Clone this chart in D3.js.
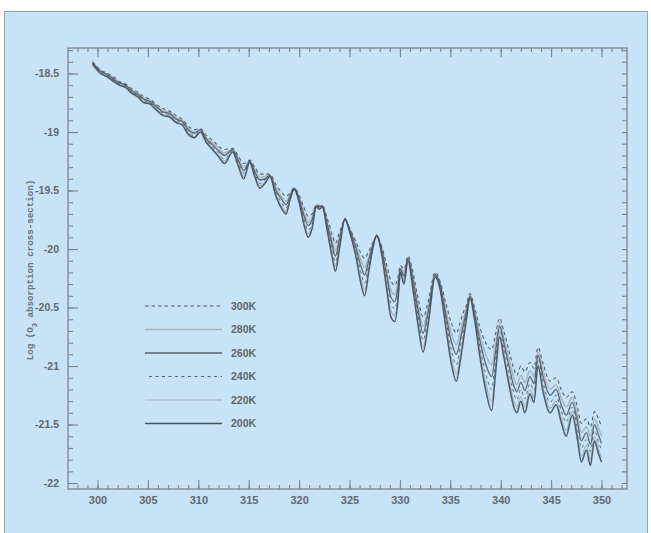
<!DOCTYPE html>
<html>
<head>
<meta charset="utf-8">
<script src="https://cdn.jsdelivr.net/npm/d3@7/dist/d3.min.js"></script>
<style>
  html, body { margin: 0; padding: 0; background: #ffffff; }
  svg { display: block; }
</style>
</head>
<body>
<script>
// ---------------- DATA ----------------
const wavelengths = [299.5,300.3,301.0,301.6,302.2,302.8,303.4,304.0,304.6,305.2,305.8,306.5,307.1,307.8,308.4,309.0,309.6,310.2,310.8,311.4,312.0,312.6,313.4,314.0,314.5,315.1,315.6,316.1,316.6,317.1,317.7,318.3,318.7,319.1,319.5,320.0,320.5,320.9,321.3,321.7,322.0,322.3,322.8,323.3,323.6,324.0,324.55,325.0,325.6,326.1,326.5,326.9,327.3,327.7,328.2,328.7,329.1,329.5,329.8,330.05,330.4,330.8,331.3,331.8,332.3,332.8,333.5,334.0,334.6,335.1,335.6,336.0,336.3,336.6,336.95,337.4,337.9,338.5,339.1,339.5,339.9,340.3,340.8,341.3,341.6,342.0,342.4,342.9,343.3,343.7,344.2,344.9,345.5,346.0,346.5,347.1,347.6,348.0,348.5,348.9,349.3,349.7,350.0];

const k300 = [-18.40,-18.47,-18.50,-18.53,-18.57,-18.59,-18.63,-18.66,-18.70,-18.72,-18.76,-18.80,-18.82,-18.86,-18.89,-18.95,-18.98,-18.97,-19.03,-19.07,-19.12,-19.15,-19.14,-19.21,-19.27,-19.24,-19.30,-19.36,-19.36,-19.36,-19.45,-19.52,-19.55,-19.52,-19.48,-19.54,-19.65,-19.72,-19.70,-19.62,-19.63,-19.63,-19.74,-19.88,-19.95,-19.86,-19.75,-19.82,-19.93,-20.03,-20.08,-20.02,-19.95,-19.89,-19.98,-20.14,-20.27,-20.31,-20.24,-20.14,-20.17,-20.06,-20.20,-20.42,-20.58,-20.45,-20.20,-20.28,-20.48,-20.63,-20.72,-20.62,-20.54,-20.48,-20.38,-20.50,-20.66,-20.80,-20.86,-20.72,-20.59,-20.70,-20.86,-21.02,-21.08,-21.00,-21.05,-20.97,-21.02,-20.84,-20.98,-21.13,-21.10,-21.20,-21.27,-21.22,-21.35,-21.49,-21.45,-21.52,-21.39,-21.45,-21.52];

const k280 = [-18.40,-18.48,-18.51,-18.54,-18.58,-18.60,-18.64,-18.67,-18.71,-18.73,-18.77,-18.82,-18.83,-18.88,-18.90,-18.97,-19.00,-18.98,-19.05,-19.09,-19.14,-19.18,-19.15,-19.23,-19.30,-19.25,-19.32,-19.39,-19.38,-19.37,-19.48,-19.56,-19.59,-19.54,-19.48,-19.56,-19.69,-19.77,-19.73,-19.63,-19.64,-19.63,-19.77,-19.93,-20.01,-19.90,-19.75,-19.83,-19.96,-20.09,-20.16,-20.07,-19.96,-19.89,-20.00,-20.19,-20.35,-20.39,-20.29,-20.16,-20.20,-20.07,-20.24,-20.48,-20.66,-20.50,-20.21,-20.30,-20.54,-20.72,-20.82,-20.70,-20.60,-20.51,-20.39,-20.53,-20.72,-20.90,-20.99,-20.80,-20.63,-20.76,-20.93,-21.10,-21.16,-21.08,-21.14,-21.04,-21.09,-20.88,-21.04,-21.20,-21.16,-21.27,-21.35,-21.27,-21.42,-21.57,-21.52,-21.60,-21.45,-21.53,-21.60];

const k260 = [-18.41,-18.48,-18.51,-18.55,-18.58,-18.60,-18.65,-18.68,-18.72,-18.74,-18.78,-18.83,-18.84,-18.89,-18.91,-18.98,-19.01,-18.98,-19.06,-19.11,-19.16,-19.20,-19.15,-19.25,-19.33,-19.25,-19.34,-19.41,-19.40,-19.37,-19.50,-19.58,-19.62,-19.55,-19.48,-19.57,-19.72,-19.80,-19.75,-19.63,-19.64,-19.63,-19.79,-19.97,-20.06,-19.92,-19.75,-19.83,-19.98,-20.14,-20.22,-20.10,-19.97,-19.89,-20.01,-20.23,-20.41,-20.45,-20.33,-20.17,-20.23,-20.08,-20.27,-20.52,-20.72,-20.54,-20.22,-20.31,-20.58,-20.79,-20.90,-20.77,-20.65,-20.53,-20.40,-20.55,-20.77,-20.98,-21.09,-20.87,-20.66,-20.80,-20.99,-21.17,-21.22,-21.14,-21.21,-21.09,-21.15,-20.91,-21.09,-21.25,-21.20,-21.33,-21.42,-21.31,-21.47,-21.64,-21.57,-21.67,-21.50,-21.59,-21.66];

const k240 = [-18.41,-18.49,-18.52,-18.56,-18.59,-18.61,-18.66,-18.69,-18.73,-18.75,-18.79,-18.84,-18.85,-18.90,-18.92,-19.00,-19.03,-18.99,-19.07,-19.12,-19.18,-19.23,-19.16,-19.27,-19.35,-19.25,-19.35,-19.44,-19.41,-19.37,-19.52,-19.61,-19.65,-19.56,-19.49,-19.58,-19.75,-19.84,-19.78,-19.63,-19.65,-19.64,-19.81,-20.01,-20.11,-19.95,-19.74,-19.84,-20.01,-20.19,-20.29,-20.14,-19.98,-19.88,-20.03,-20.28,-20.47,-20.51,-20.38,-20.18,-20.25,-20.09,-20.30,-20.57,-20.78,-20.58,-20.23,-20.33,-20.62,-20.86,-20.99,-20.83,-20.70,-20.56,-20.41,-20.57,-20.82,-21.06,-21.20,-20.93,-20.69,-20.84,-21.05,-21.23,-21.29,-21.20,-21.28,-21.15,-21.21,-20.94,-21.14,-21.31,-21.25,-21.38,-21.48,-21.35,-21.53,-21.70,-21.63,-21.73,-21.55,-21.65,-21.72];

const k220 = [-18.42,-18.50,-18.53,-18.56,-18.60,-18.62,-18.66,-18.69,-18.74,-18.75,-18.80,-18.85,-18.86,-18.91,-18.93,-19.01,-19.04,-19.00,-19.08,-19.14,-19.20,-19.25,-19.17,-19.29,-19.38,-19.26,-19.37,-19.46,-19.43,-19.38,-19.54,-19.64,-19.68,-19.57,-19.49,-19.59,-19.78,-19.87,-19.80,-19.64,-19.66,-19.64,-19.83,-20.05,-20.15,-19.98,-19.74,-19.85,-20.03,-20.24,-20.35,-20.17,-19.99,-19.88,-20.04,-20.32,-20.53,-20.57,-20.42,-20.19,-20.28,-20.09,-20.33,-20.62,-20.84,-20.62,-20.23,-20.34,-20.67,-20.93,-21.07,-20.90,-20.74,-20.58,-20.41,-20.59,-20.86,-21.14,-21.30,-21.00,-20.73,-20.89,-21.11,-21.30,-21.35,-21.26,-21.35,-21.20,-21.27,-20.98,-21.18,-21.36,-21.30,-21.44,-21.55,-21.39,-21.58,-21.77,-21.68,-21.80,-21.60,-21.71,-21.78];

const k200 = [-18.42,-18.50,-18.53,-18.57,-18.60,-18.62,-18.67,-18.70,-18.75,-18.76,-18.81,-18.86,-18.87,-18.92,-18.94,-19.02,-19.05,-19.00,-19.09,-19.15,-19.21,-19.27,-19.17,-19.30,-19.40,-19.26,-19.38,-19.48,-19.44,-19.38,-19.55,-19.66,-19.70,-19.58,-19.49,-19.60,-19.80,-19.90,-19.82,-19.64,-19.66,-19.64,-19.85,-20.08,-20.19,-20.00,-19.74,-19.85,-20.05,-20.28,-20.40,-20.20,-20.00,-19.88,-20.05,-20.35,-20.58,-20.62,-20.45,-20.20,-20.30,-20.10,-20.35,-20.65,-20.88,-20.65,-20.24,-20.35,-20.70,-20.98,-21.13,-20.95,-20.78,-20.60,-20.42,-20.60,-20.90,-21.20,-21.38,-21.05,-20.75,-20.92,-21.15,-21.35,-21.40,-21.30,-21.40,-21.24,-21.31,-21.00,-21.22,-21.40,-21.33,-21.48,-21.60,-21.42,-21.62,-21.82,-21.72,-21.85,-21.64,-21.75,-21.82];

const seriesLabels = ["300K","280K","260K","240K","220K","200K"];
const seriesValues = [k300, k280, k260, k240, k220, k200];
const xTickValues = [300,305,310,315,320,325,330,335,340,345,350];
const yTickValues = [-18.5,-19,-19.5,-20,-20.5,-21,-21.5,-22];
const yTickLabels = ["-18.5","-19","-19.5","-20","-20.5","-21","-21.5","-22"];
const yTitle = "Log (O";
const yTitleSub = "3";
const yTitleRest = " absorption cross-section)";

(function () {
  const styles = [
    {stroke:"#4e5862", width:1.1, dash:"3.5,3"},   // 300K
    {stroke:"#a6b4c0", width:1.6, dash:null},      // 280K
    {stroke:"#56616b", width:1.3, dash:null},      // 260K
    {stroke:"#59646e", width:1.0, dash:"3,3.5"},   // 240K
    {stroke:"#9eacb8", width:1.1, dash:null},      // 220K
    {stroke:"#4a545e", width:1.5, dash:null}       // 200K
  ];

  const W = 651, H = 533;
  const mLeft = 68, mRight = 627, mTop = 48, mBottom = 489;

  const svg = d3.select("body").append("svg").attr("width", W).attr("height", H);

  const defs = svg.append("defs");
  defs.append("filter").attr("id", "soft").attr("x", "-5%").attr("y", "-5%")
    .attr("width", "110%").attr("height", "110%")
    .append("feGaussianBlur").attr("stdDeviation", 0.35);

  svg.append("rect").attr("x", 4.5).attr("y", 11.5).attr("width", 643).attr("height", 540)
    .attr("fill", "#c6e3f7").attr("stroke", "#9aa3aa").attr("stroke-width", 1);

  const x = d3.scaleLinear().domain([297.07, 352.53]).range([mLeft, mRight]);
  const y = d3.scaleLinear().domain([-22.051, -18.282]).range([mBottom, mTop]);

  const axisColor = "#7d858c";
  const tickFont = "'Liberation Sans', Arial, sans-serif";

  function styleAxis(g) {
    g.select(".domain").remove();
    g.selectAll(".tick line").attr("stroke", axisColor).attr("stroke-width", 1.1);
    g.selectAll(".tick text").attr("fill", "#62696f").attr("font-family", tickFont)
      .attr("font-weight", "bold");
  }

  const xMinor = d3.range(298, 353, 1);
  const yMinor = d3.range(-22.0, -18.25, 0.1).map(v => +v.toFixed(2));

  svg.append("g").attr("transform", `translate(0,${mBottom})`)
    .call(d3.axisBottom(x).tickValues(xMinor).tickSize(-4).tickFormat(""))
    .call(styleAxis);
  svg.append("g").attr("transform", `translate(0,${mBottom})`)
    .call(d3.axisBottom(x).tickValues(xTickValues).tickSize(-9).tickPadding(7).tickFormat(d3.format("d")))
    .call(styleAxis)
    .call(g => g.selectAll(".tick text").attr("font-size", 11));

  svg.append("g").attr("transform", `translate(0,${mTop})`)
    .call(d3.axisTop(x).tickValues(xMinor).tickSize(-4).tickFormat(""))
    .call(styleAxis);
  svg.append("g").attr("transform", `translate(0,${mTop})`)
    .call(d3.axisTop(x).tickValues(xTickValues).tickSize(-9).tickFormat(""))
    .call(styleAxis);

  svg.append("g").attr("transform", `translate(${mLeft},0)`)
    .call(d3.axisLeft(y).tickValues(yMinor).tickSize(-5).tickFormat(""))
    .call(styleAxis);
  svg.append("g").attr("transform", `translate(${mLeft},0)`)
    .call(d3.axisLeft(y).tickValues(yTickValues).tickSize(-10).tickPadding(9)
      .tickFormat((d, i) => yTickLabels[i]))
    .call(styleAxis)
    .call(g => g.selectAll(".tick text").attr("font-size", 10.5));

  svg.append("g").attr("transform", `translate(${mRight},0)`)
    .call(d3.axisRight(y).tickValues(yMinor).tickSize(-5).tickFormat(""))
    .call(styleAxis);

  svg.append("rect").attr("x", mLeft).attr("y", mTop).attr("width", mRight - mLeft).attr("height", mBottom - mTop)
    .attr("fill", "none").attr("stroke", axisColor).attr("stroke-width", 1.3);

  const tt = svg.append("text")
    .attr("transform", `translate(33,270) rotate(-90)`)
    .attr("text-anchor", "middle")
    .attr("font-family", "'Liberation Mono', 'DejaVu Sans Mono', monospace")
    .attr("font-size", 9.2)
    .attr("font-weight", "bold")
    .attr("fill", "#6a7177");
  tt.append("tspan").text(yTitle);
  tt.append("tspan").attr("baseline-shift", "sub").attr("font-size", 7).text(yTitleSub);
  tt.append("tspan").text(yTitleRest);

  const line = d3.line().curve(d3.curveMonotoneX).x(d => x(d[0])).y(d => y(d[1]));
  const plot = svg.append("g").attr("filter", "url(#soft)");
  const order = [1, 4, 0, 3, 2, 5];
  order.forEach(i => {
    const pts = wavelengths.map((w, j) => [w, seriesValues[i][j]]);
    const s = styles[i];
    const p = plot.append("path").datum(pts).attr("d", line)
      .attr("fill", "none").attr("stroke", s.stroke).attr("stroke-width", s.width)
      .attr("stroke-linejoin", "round").attr("opacity", 0.95);
    if (s.dash) p.attr("stroke-dasharray", s.dash);
  });

  const legend = svg.append("g").attr("transform", "translate(145,306)");
  seriesLabels.forEach((lab, i) => {
    const s = styles[i];
    const gy = i * 23.5;
    const ln = legend.append("line").attr("x1", i === 3 ? 4 : 0).attr("x2", 77).attr("y1", gy).attr("y2", gy)
      .attr("stroke", s.stroke).attr("stroke-width", s.width);
    if (s.dash) ln.attr("stroke-dasharray", s.dash);
    legend.append("text").attr("x", 86).attr("y", gy).attr("dy", "0.35em")
      .attr("font-family", tickFont).attr("font-weight", "bold").attr("font-size", 10.5)
      .attr("fill", "#5e656b").text(lab);
  });
})();
</script>
</body>
</html>
